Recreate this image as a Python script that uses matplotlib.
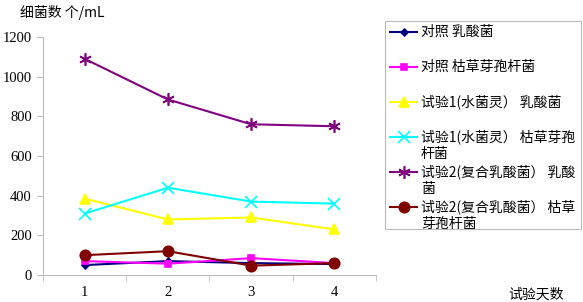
import matplotlib
matplotlib.use('Agg')
import matplotlib.pyplot as plt
from matplotlib.lines import Line2D
from matplotlib.patches import Rectangle

plt.rcParams['font.family'] = ['Noto Sans CJK SC', 'DejaVu Sans']

# 数据
days = [1, 2, 3, 4]
ck_lab = [50, 70, 60, 55]
ck_bs = [70, 57, 85, 60]
t1_lab = [385, 280, 290, 230]
t1_bs = [310, 440, 370, 360]
t2_lab = [1090, 885, 760, 750]
t2_bs = [100, 120, 47, 60]

labels = ['对照 乳酸菌', '对照 枯草芽孢杆菌', '试验1(水菌灵） 乳酸菌',
          '试验1(水菌灵） 枯草芽孢\n杆菌', '试验2(复合乳酸菌） 乳酸\n菌',
          '试验2(复合乳酸菌） 枯草\n芽孢杆菌']
series = [ck_lab, ck_bs, t1_lab, t1_bs, t2_lab, t2_bs]
colors = ['#000080', '#FF00FF', '#FFFF00', '#00FFFF', '#800080', '#800000']
markers = ['D', 's', '^', 'x', (6, 2, 0), 'o']
msizes = [3.5, 4.5, 7.5, 8, 9, 7.5]

fig = plt.figure(figsize=(5.83, 3.02), dpi=100)
ax = fig.add_axes([43/583, 27/302, 333/583, 238/302])

for vals, c, m, ms in zip(series, colors, markers, msizes):
    ax.plot(days, vals, color=c, marker=m, markersize=ms, linewidth=1.5,
            markeredgewidth=1.2)

ax.set_xlim(0.5, 4.5)
ax.set_ylim(0, 1200)
ax.set_yticks(range(0, 1201, 200))
ax.set_xticks(days)
ax.set_xticks([0.5, 1.5, 2.5, 3.5, 4.5], minor=True)
ax.tick_params(axis='x', which='major', length=0, pad=8)
ax.tick_params(axis='x', which='minor', length=4, color='#BBBBBB', direction='out')
ax.tick_params(axis='y', length=4, color='#BBBBBB', pad=4)
for lbl in ax.get_xticklabels() + ax.get_yticklabels():
    lbl.set_fontfamily('Liberation Serif')
    lbl.set_fontsize(10.5)
for s in ['top', 'right']:
    ax.spines[s].set_visible(False)
for s in ['left', 'bottom']:
    ax.spines[s].set_color('#BBBBBB')

fig.text(20/583, 1 - 12/302, '细菌数 个/mL', fontsize=10, va='center', ha='left')
fig.text(508/583, 1 - 295/302, '试验天数', fontsize=10, va='center', ha='left')

# 图例（手动绘制，条目间距固定）
W, H = 583, 302
fig.patches.append(Rectangle((385/W, 1 - 229/H), 196/W, 208/H, transform=fig.transFigure,
                             facecolor='white', edgecolor='#BBBBBB', linewidth=0.8))
entry_y = [32, 67, 102, 137, 172, 207]
for lab, c, m, ms, y in zip(labels, colors, markers, msizes, entry_y):
    yf = 1 - y/H
    fig.add_artist(Line2D([390/W, 417/W], [yf, yf], color=c, linewidth=1.5,
                          transform=fig.transFigure))
    fig.add_artist(Line2D([403.5/W], [yf], color=c, marker=m, markersize=ms,
                          markeredgewidth=1.2, transform=fig.transFigure))
    fig.text(421/W, yf + 7.5/H, lab, fontsize=10, va='top', ha='left', linespacing=1.25)

fig.savefig('out.png', dpi=100)
